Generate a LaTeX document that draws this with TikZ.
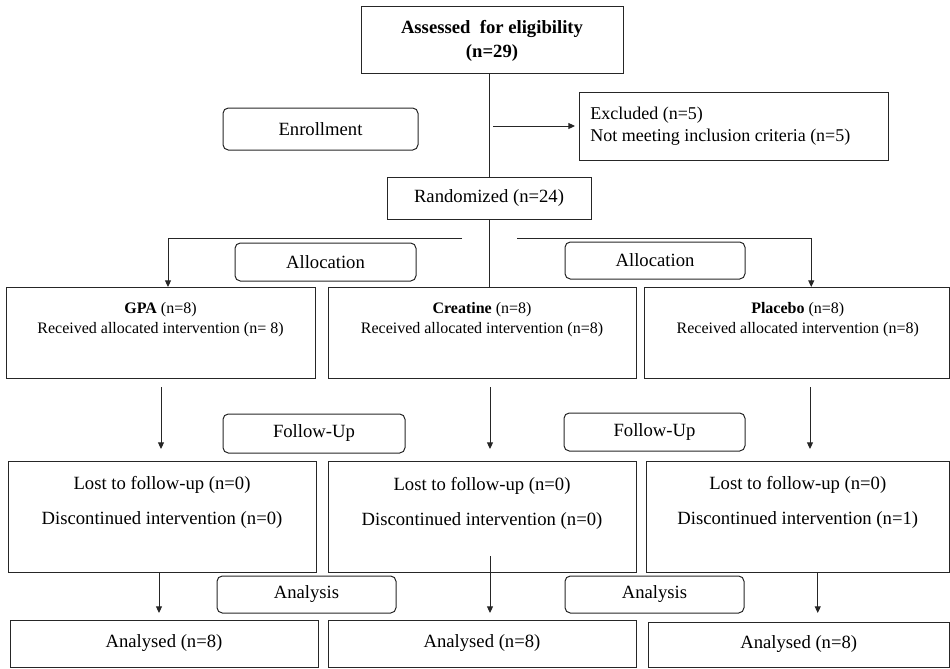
\documentclass[tikz,border=0pt]{standalone}
\usepackage{fontspec}
\setmainfont{Liberation Serif}
\usetikzlibrary{arrows.meta,fit,calc}
\begin{document}
\begin{tikzpicture}[x=0.75pt,y=-0.75pt,
  box/.style={draw=black!85, line width=0.75pt, inner sep=0pt, outer sep=0pt},
  stage/.style={box, rounded corners=4pt},
  big/.style={font=\fontsize{14}{16}\selectfont, inner sep=0pt},
  small/.style={font=\fontsize{12}{15}\selectfont, align=center, inner sep=0pt},
  two/.style={font=\fontsize{14}{26.25}\selectfont, align=center, inner sep=0pt},
  conn/.style={draw=black!85, line width=0.75pt},
  arr/.style={conn, -{Triangle[length=5pt,width=4.5pt]}}]
\useasboundingbox (0,0) rectangle (950,668);
% top
\node[box, fit={(361,6)(623,73)}] (elig) {};
\node[align=center, inner sep=0pt, font=\bfseries\fontsize{14}{18}\selectfont] (eligtxt) at ($(elig.center)+(0,1)$) {Assessed\ \ for eligibility\\(n=29)};
\node[stage, fit={(223,108)(418,150)}] (enr) {};
\node[big] (enrtxt) at (enr.center) {Enrollment};
\node[box, fit={(579,92)(888,160)}] (excl) {};
\node[anchor=west, align=left, inner sep=0pt, font=\fontsize{13.5}{16.5}\selectfont] (excltxt) at ([xshift=8.25pt]excl.west) {Excluded (n=5)\\Not meeting inclusion criteria (n=5)};
\node[box, fit={(387,177)(591,219)}] (rand) {};
\node[big] (randtxt) at (rand.center) {Randomized (n=24)};
\node[stage, fit={(235,243)(416,281)}] (allocL) {};
\node[big] at (allocL.center) {Allocation};
\node[stage, fit={(565,242)(745,279)}] (allocR) {};
\node[big] at (allocR.center) {Allocation};
% row 1
\node[box, fit={(6,287)(315,378)}] (gpa) {};
\node[box, fit={(328,287)(636,378)}] (crea) {};
\node[box, fit={(644,287)(949.5,378)}] (plac) {};
\node[small] (gpatxt) at ($(gpa.north)+(0,33)$) {\textbf{GPA} (n=8)\\Received allocated intervention (n= 8)};
\node[small] (creatxt) at ($(crea.north)+(0,33)$) {\textbf{Creatine} (n=8)\\Received allocated intervention (n=8)};
\node[small] (plactxt) at ($(plac.north)+(1,33)$) {\textbf{Placebo} (n=8)\\Received allocated intervention (n=8)};
% follow-up
\node[stage, fit={(223,414)(405,453)}] (folL) {};
\node[big] at (folL.center) {Follow-Up};
\node[stage, fit={(564,413)(745,451)}] (folR) {};
\node[big] at (folR.center) {Follow-Up};
% row 2
\node[box, fit={(8,461)(316,572)}] (lostL) {};
\node[box, fit={(328,461)(636,572)}] (lostM) {};
\node[box, fit={(646,461)(949.5,572)}] (lostR) {};
\node[two] (lostLtxt) at ($(lostL.north)+(0,41.5)$) {Lost to follow-up (n=0)\\Discontinued intervention (n=0)};
\node[two] (lostMtxt) at ($(lostM.north)+(0,42)$) {Lost to follow-up (n=0)\\Discontinued intervention (n=0)};
\node[two] (lostRtxt) at ($(lostR.north)+(0,41)$) {Lost to follow-up (n=0)\\Discontinued intervention (n=1)};
% analysis
\node[stage, fit={(217,576)(396,613)}] (anaL) {};
\node[big] at (anaL.center) {Analysis};
\node[stage, fit={(565,576)(744,613)}] (anaR) {};
\node[big] at (anaR.center) {Analysis};
% row 3
\node[box, fit={(10,620)(318,667)}] (resL) {};
\node[big] at (resL.center) {Analysed (n=8)};
\node[box, fit={(328,620)(636,667)}] (resM) {};
\node[big] at (resM.center) {Analysed (n=8)};
\node[box, fit={(648,622)(949.5,667)}] (resR) {};
\node[big] at (resR.center) {Analysed (n=8)};
% connectors
\draw[conn] (rand.north) -- (rand.north |- elig.south);
\coordinate (exo) at (493,126);
\draw[arr, shorten >=3pt] (exo) -- (excl.west);
\draw[conn] (rand.south) -- (rand.south |- crea.north);
\coordinate (bl) at (462,238);
\coordinate (br) at (517,238);
\draw[arr] (bl) -| ($(gpa.north)+(7.5,0)$);
\draw[arr] (br) -| ($(plac.north)+(14.5,0)$);
\coordinate (f1s) at (161,387); \coordinate (f1e) at (161,449);
\coordinate (f2s) at (490,387); \coordinate (f2e) at (490,449);
\coordinate (f3s) at (810,387); \coordinate (f3e) at (810,449);
\draw[arr] (f1s) -- (f1e);
\draw[arr] (f2s) -- (f2e);
\draw[arr] (f3s) -- (f3e);
\coordinate (a2s) at (490,556); \coordinate (a2e) at (490,613);
\draw[arr] ($(lostL.south)+(-3,0)$) -- ++(0,41);
\draw[arr] (a2s) -- (a2e);
\draw[arr] ($(lostR.south)+(20,0)$) -- ++(0,41);
\end{tikzpicture}
\end{document}
